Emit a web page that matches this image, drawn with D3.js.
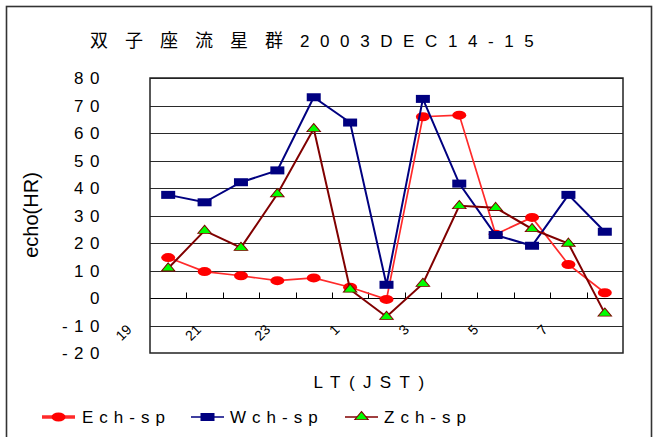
<!DOCTYPE html>
<html>
<head>
<meta charset="utf-8">
<script src="https://cdn.jsdelivr.net/npm/d3@7"></script>
<style>
  html, body { margin: 0; padding: 0; background: #fff; }
  svg { display: block; }
  text { font-family: "Liberation Sans", Arial, sans-serif; fill: #000; }
</style>
</head>
<body>
<svg id="chart" width="656" height="437"></svg>
<script>
// Hourly echo counts, Geminids 2003 Dec 14-15
const hours = ["19","20","21","22","23","0","1","2","3","4","5","6","7"];
const labeledHours = ["19","21","23","1","3","5","7"];
const ech = [14.7, 9.6, 8.1, 6.3, 7.3, 3.9, -0.5, 65.9, 66.5, 23.2, 29.3, 12.2, 1.9];
const wch = [37.5, 34.8, 42.1, 46.4, 73.0, 63.8, 4.8, 72.4, 41.6, 22.9, 19.0, 37.5, 24.1];
const zch = [10.8, 24.5, 18.3, 37.8, 61.5, 3.1, -6.8, 5.2, 33.5, 32.8, 25.1, 19.8, -5.6];
const yTicks = [-20, -10, 0, 10, 20, 30, 40, 50, 60, 70, 80];
const seriesNames = ["Ech-sp", "Wch-sp", "Zch-sp"];

const svg = d3.select("#chart");
const plot = { left: 150, right: 623, top: 78, bottom: 353 };

// outer frame
svg.append("rect")
  .attr("x", 6.5).attr("y", 6.5).attr("width", 645).attr("height", 440)
  .attr("fill", "none").attr("stroke", "#333").attr("stroke-width", 1.6);

const x = d3.scaleBand().domain(hours).range([plot.left, plot.right]).padding(0);
const cx = h => x(h) + x.bandwidth() / 2;
const y = d3.scaleLinear().domain([-20, 80]).range([plot.bottom, plot.top]);

// title
const title = svg.append("text").attr("x", 90).attr("y", 47);
title.append("tspan")
  .style("font-family", "'Noto Sans CJK JP', sans-serif")
  .style("font-size", "18px").style("letter-spacing", "17px")
  .text("双子座流星群");
title.append("tspan")
  .style("font-size", "17px").style("letter-spacing", "10.6px")
  .text("2003DEC14-15");

// horizontal gridlines
svg.append("g").selectAll("line")
  .data(yTicks.filter(v => v !== 0 && v !== -20))
  .join("line")
  .attr("x1", plot.left).attr("x2", plot.right)
  .attr("y1", d => Math.round(y(d)) + 0.5).attr("y2", d => Math.round(y(d)) + 0.5)
  .attr("stroke", "#2a2a2a").attr("stroke-width", 1);

// zero axis with category ticks
const zeroY = Math.round(y(0)) + 0.5;
svg.append("line")
  .attr("x1", plot.left).attr("x2", plot.right)
  .attr("y1", zeroY).attr("y2", zeroY)
  .attr("stroke", "#000").attr("stroke-width", 1.2);
svg.append("g").selectAll("line")
  .data(hours.slice(1))
  .join("line")
  .attr("x1", d => Math.round(x(d)) + 0.5).attr("x2", d => Math.round(x(d)) + 0.5)
  .attr("y1", zeroY).attr("y2", zeroY - 6)
  .attr("stroke", "#000").attr("stroke-width", 1);

// plot area border
svg.append("rect")
  .attr("x", plot.left).attr("y", plot.top)
  .attr("width", plot.right - plot.left).attr("height", plot.bottom - plot.top)
  .attr("fill", "none").attr("stroke", "#222").attr("stroke-width", 1.5);

// y tick labels
svg.append("g").selectAll("text")
  .data(yTicks)
  .join("text")
  .attr("x", 106).attr("y", d => y(d)).attr("dy", "0.36em")
  .attr("text-anchor", "end")
  .style("font-size", "17px").style("letter-spacing", "6.5px")
  .text(d => d < 0 ? "-" + Math.abs(d) : String(d));

// rotated category labels
const labelX = d3.scaleLinear().domain([0, hours.length - 1]).range([129, 545]);
svg.append("g").selectAll("text")
  .data(labeledHours)
  .join("text")
  .attr("transform", d => `translate(${labelX(hours.indexOf(d))},${327}) rotate(-45)`)
  .attr("text-anchor", "end").attr("dy", "0.36em")
  .style("font-size", "14px")
  .text(d => d);

// axis titles
svg.append("text")
  .attr("transform", "translate(31,215) rotate(-90)")
  .attr("text-anchor", "middle").attr("dy", "0.36em")
  .style("font-size", "20px")
  .text("echo(HR)");
svg.append("text")
  .attr("x", 373).attr("y", 388).attr("text-anchor", "middle")
  .style("font-size", "17px").style("letter-spacing", "8.4px")
  .text("LT(JST)");

// series drawing
const line = d3.line().x((d, i) => cx(hours[i])).y(d => y(d));
const styles = [
  { data: ech, stroke: "#ff2a2a", width: 1.7, marker: "ellipse" },
  { data: wch, stroke: "#000080", width: 2, marker: "rect" },
  { data: zch, stroke: "#800000", width: 2, marker: "tri" }
];

function drawMarker(g, kind, px, py) {
  if (kind === "ellipse") {
    g.append("ellipse").attr("cx", px).attr("cy", py).attr("rx", 7).attr("ry", 4.5)
      .attr("fill", "#ff0000");
  } else if (kind === "rect") {
    g.append("rect").attr("x", px - 7).attr("y", py - 4).attr("width", 14).attr("height", 8)
      .attr("fill", "#000080");
  } else {
    const tri = d3.symbol().type(d3.symbolTriangle).size(60);
    g.append("path").attr("d", tri())
      .attr("transform", `translate(${px},${py}) scale(1.15,0.8)`)
      .attr("fill", "#00ff00").attr("stroke", "#800000").attr("stroke-width", 1);
  }
}

styles.forEach(s => {
  const g = svg.append("g");
  g.append("path").attr("d", line(s.data))
    .attr("fill", "none").attr("stroke", s.stroke).attr("stroke-width", s.width)
    .attr("stroke-linejoin", "miter");
  s.data.forEach((v, i) => drawMarker(g, s.marker, cx(hours[i]), y(v)));
});

// legend
const legendItems = [
  { lx: 42, tx: 82, width: 3.5 },
  { lx: 191, tx: 230, width: 1.5 },
  { lx: 345, tx: 384, width: 1.5 }
];
legendItems.forEach((it, k) => {
  const g = svg.append("g");
  const ly = 417;
  g.append("line").attr("x1", it.lx).attr("x2", it.lx + 33).attr("y1", ly).attr("y2", ly)
    .attr("stroke", styles[k].stroke).attr("stroke-width", it.width);
  drawMarker(g, styles[k].marker, it.lx + 16.5, ly);
  g.append("text").attr("x", it.tx).attr("y", ly).attr("dy", "0.36em")
    .style("font-size", "17px").style("letter-spacing", "6px")
    .text(seriesNames[k]);
});
</script>
</body>
</html>
